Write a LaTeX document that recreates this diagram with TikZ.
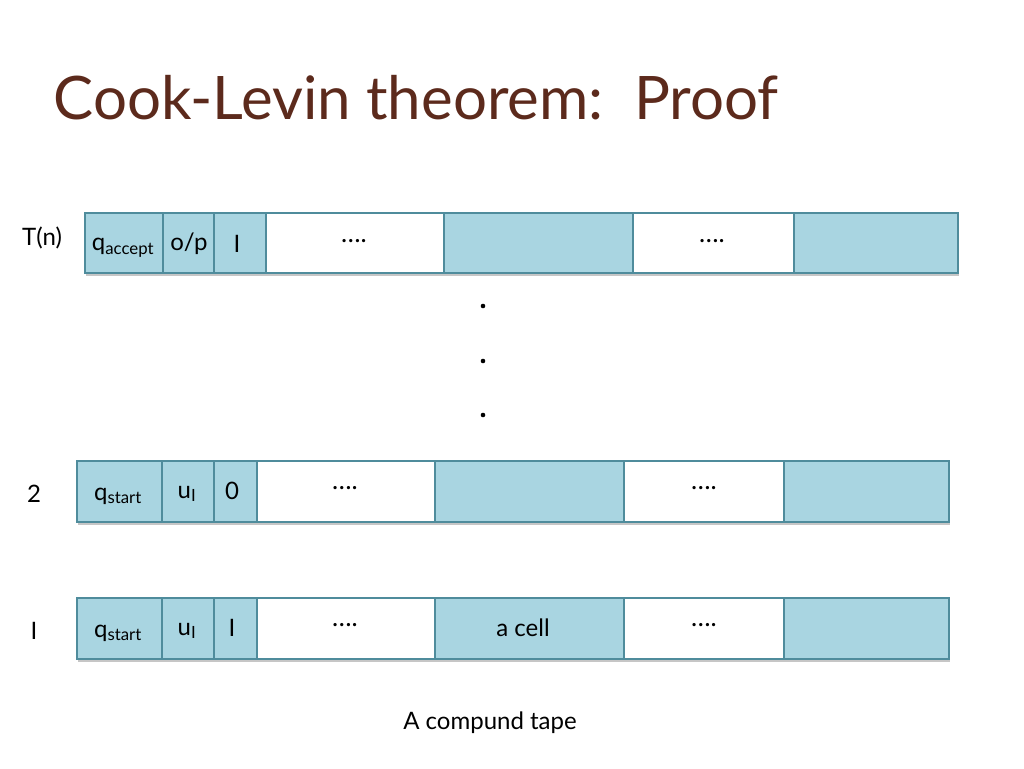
\documentclass[tikz,border=0pt]{standalone}
\usepackage{fontspec}
\setmainfont{Lato}
\usetikzlibrary{shadows}
\definecolor{cellblue}{HTML}{A9D5E1}
\definecolor{celledge}{HTML}{4F8C9C}
\definecolor{titlec}{HTML}{5C2A1C}
\begin{document}
\begin{tikzpicture}[x=1pt,y=-1pt,
  blue/.style={fill=cellblue,draw=celledge,line width=1.5pt,drop shadow={shadow xshift=1.5pt,shadow yshift=-3pt,opacity=0.45}},
  white/.style={fill=white,draw=celledge,line width=1.5pt,drop shadow={shadow xshift=1.5pt,shadow yshift=-3pt,opacity=0.45}},
  txt/.style={font=\fontsize{24}{28}\selectfont},
  dots/.style={font=\fontsize{26}{28}\selectfont}]
\useasboundingbox (0,0) rectangle (1024,768);
\node[anchor=west,text=titlec,font=\fontsize{60}{70}\selectfont] (title) at (50,98) {Cook-Levin theorem:\, Proof};
% top row
\foreach \a/\b/\s/\n in {84/162/blue/t1,162/213/blue/t2,213/265/blue/t3,265/443/white/t4,443/632/blue/t5,632/793/white/t6,793/957/blue/t7}
  {\node[\s,minimum width=\b-\a,minimum height=60,inner sep=0,anchor=north west] (\n) at (\a,212) {};}
\node[txt] (l1) at (123,248) {q\textsubscript{accept}};
\node[txt] (l2) at (189,244) {o/p};
\node[txt] (l3) at (237,244) {I};
\node[dots] (l4) at (354,241) {….};
\node[dots] (l5) at (712,241) {….};
\node[txt] (tn) at (42,238) {T(n)};
% vertical dots
\foreach \y/\n in {306/d1,361/d2,415/d3} \fill (483,\y) circle (2.3pt) coordinate (\n);
% rows 2 and 1
\foreach \r/\yy in {b/460,c/597}{
\foreach \a/\b/\s/\n in {76/161/blue/1,161/213/blue/2,213/256/blue/3,256/434/white/4,434/623/blue/5,623/783/white/6,783/948/blue/7}
  {\node[\s,minimum width=\b-\a,minimum height=61,inner sep=0,anchor=north west] (\r\n) at (\a,\yy) {};}
}
\node[txt] (b1l) at (118,496) {q\textsubscript{start}};
\node[txt] (b2l) at (187,494) {u\textsubscript{I}};
\node[txt] (b3l) at (232,491) {0};
\node[dots] (b4l) at (345,488) {….};
\node[dots] (b6l) at (704,488) {….};
\node[txt] (n2) at (34,494) {2};
\node[txt] (c1l) at (118,633) {q\textsubscript{start}};
\node[txt] (c2l) at (187,631) {u\textsubscript{I}};
\node[txt] (c3l) at (232,628) {I};
\node[dots] (c4l) at (345,625) {….};
\node[txt] (c5l) at (523,628) {a cell};
\node[dots] (c6l) at (704,625) {….};
\node[txt] (n1) at (34,631) {I};
\node[txt] (cap) at (490,723) {A compund tape};
\end{tikzpicture}
\end{document}
